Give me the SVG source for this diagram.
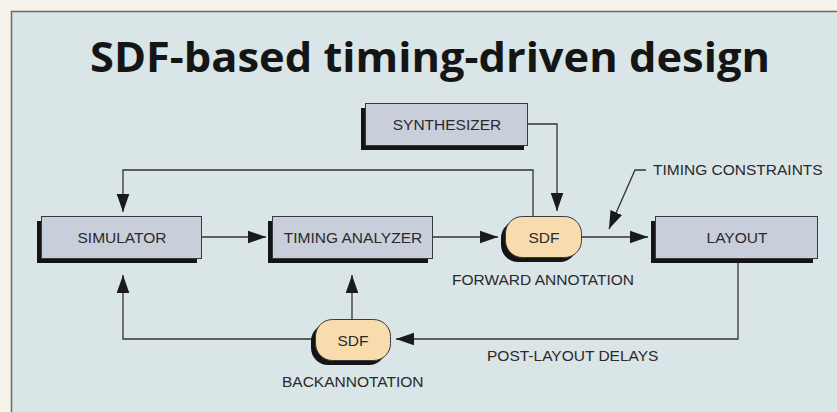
<svg xmlns="http://www.w3.org/2000/svg" width="837" height="412" viewBox="0 0 837 412">
<style>
.lbl{font-family:"Liberation Sans",Arial,sans-serif;font-size:15.5px;fill:#2a2a2a}
.box{fill:#c8cfdb;stroke:#3a3a3a;stroke-width:1}
.sdf{fill:#f8dcae;stroke:#3a3a3a;stroke-width:1}
.sh{fill:#141414}
.ln{fill:none;stroke:#333;stroke-width:1.3}
</style>
<defs>
<marker id="ah" viewBox="0 0 10 10" refX="10" refY="5" markerWidth="18" markerHeight="18" markerUnits="userSpaceOnUse" orient="auto">
<path d="M0,1.5 L10,5 L0,8.5 Z" fill="#1a1a1a"/>
</marker>
</defs>
<rect x="0" y="0" width="837" height="412" fill="#f6f3ea"/>
<rect x="11.5" y="11.5" width="840" height="420" fill="#d9e5e7" stroke="#6a6a6a" stroke-width="1.5"/>
<text x="430" y="72" text-anchor="middle" textLength="680" lengthAdjust="spacingAndGlyphs" style="font-family:'Open Sans','Liberation Sans',sans-serif;font-weight:bold;font-size:41px;fill:#151515">SDF-based timing-driven design</text>

<g id="connectors">
<path class="ln" d="M528,124 H557 V211" marker-end="url(#ah)"/>
<path class="ln" d="M533,216 V170 H123 V212" marker-end="url(#ah)"/>
<path class="ln" d="M202,237 H266" marker-end="url(#ah)"/>
<path class="ln" d="M433,237 H498" marker-end="url(#ah)"/>
<path class="ln" d="M582,237 H648" marker-end="url(#ah)"/>
<path class="ln" d="M646,170 H635 L609,229" marker-end="url(#ah)"/>
<path class="ln" d="M738,263 V339 H396" marker-end="url(#ah)"/>
<path class="ln" d="M352,319 V275" marker-end="url(#ah)"/>
<path class="ln" d="M315,339 H123 V275" marker-end="url(#ah)"/>
</g>

<g id="synthesizer">
<rect class="sh" x="361" y="108" width="163" height="42"/>
<rect class="box" x="365.5" y="103.5" width="162" height="42"/>
<text class="lbl" x="447" y="130" text-anchor="middle">SYNTHESIZER</text>
</g>
<g id="simulator">
<rect class="sh" x="37" y="221" width="160" height="42"/>
<rect class="box" x="41.5" y="216.5" width="160" height="42"/>
<text class="lbl" x="122" y="243" text-anchor="middle">SIMULATOR</text>
</g>
<g id="timing-analyzer">
<rect class="sh" x="268" y="221" width="160" height="42"/>
<rect class="box" x="272.5" y="216.5" width="160" height="42"/>
<text class="lbl" x="353" y="243" text-anchor="middle">TIMING ANALYZER</text>
</g>
<g id="sdf-forward">
<rect class="sh" x="501" y="221" width="76" height="41" rx="17"/>
<rect class="sdf" x="505.5" y="216.5" width="76" height="41" rx="17"/>
<text class="lbl" x="544" y="243" text-anchor="middle">SDF</text>
</g>
<g id="layout">
<rect class="sh" x="651" y="221" width="162" height="42"/>
<rect class="box" x="655.5" y="216.5" width="162" height="42"/>
<text class="lbl" x="737" y="243" text-anchor="middle">LAYOUT</text>
</g>
<g id="sdf-back">
<rect class="sh" x="311" y="324" width="75" height="41" rx="17"/>
<rect class="sdf" x="315.5" y="319.5" width="75" height="41" rx="17"/>
<text class="lbl" x="353" y="345.5" text-anchor="middle">SDF</text>
</g>

<g id="labels">
<text class="lbl" x="653" y="175">TIMING CONSTRAINTS</text>
<text class="lbl" x="452" y="285">FORWARD ANNOTATION</text>
<text class="lbl" x="487" y="361">POST-LAYOUT DELAYS</text>
<text class="lbl" x="282" y="387">BACKANNOTATION</text>
</g>
</svg>
